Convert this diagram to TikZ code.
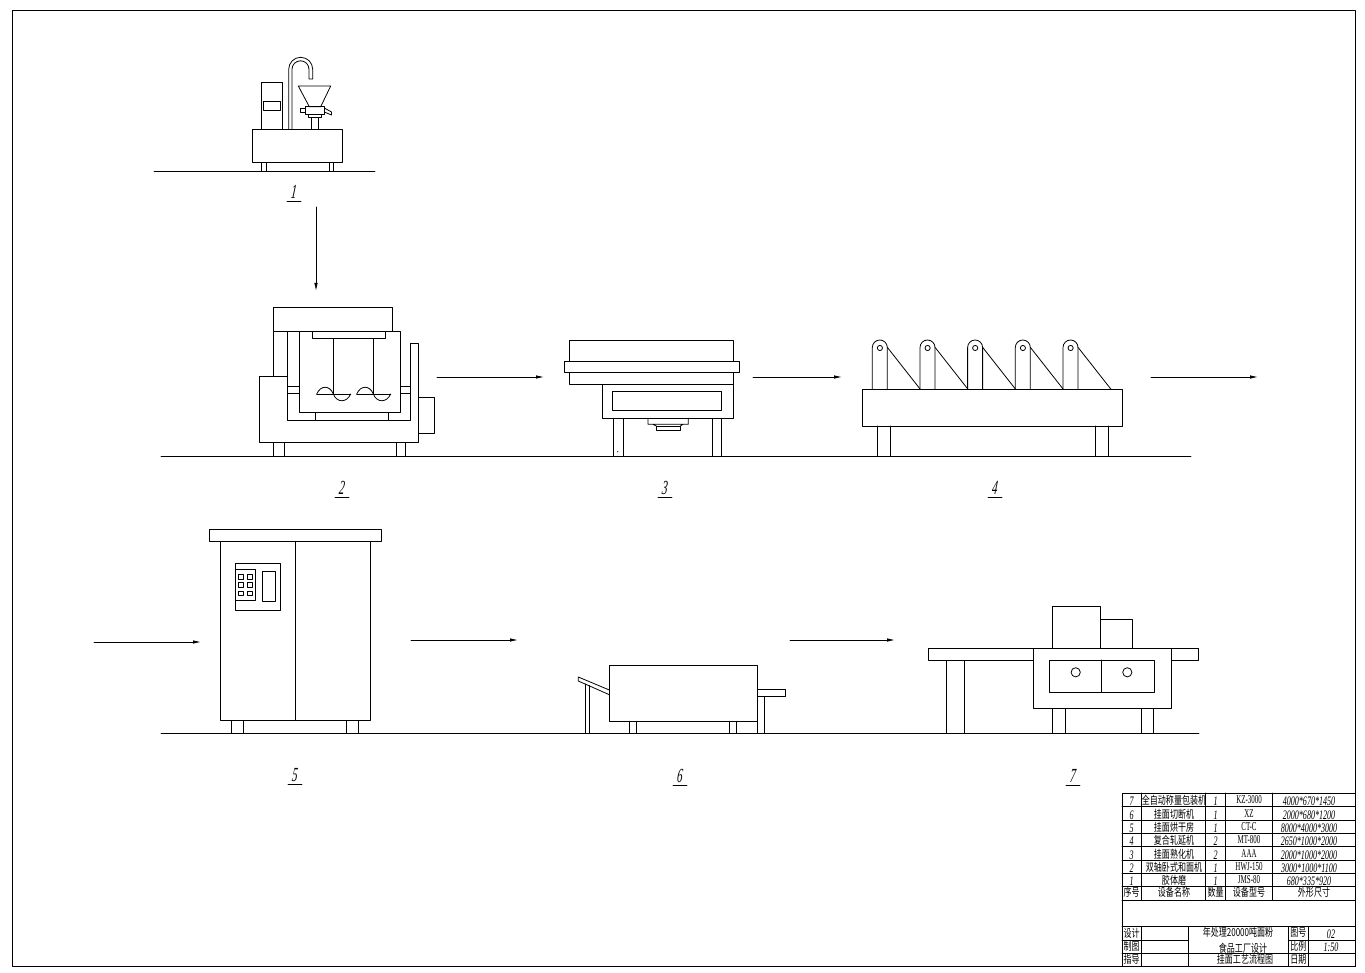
\documentclass[tikz,border=0pt]{standalone}
\usepackage{fontspec}
\usepackage{tikz}
\usetikzlibrary{arrows.meta}
\setmainfont{Liberation Serif}
\newfontfamily\cjk{Noto Sans CJK SC}
\tikzset{>=latex}
\tikzset{line/.style = {line width=0.8pt, black, line cap=round, line join=round}}
\tikzset{flow/.style = {line width=0.8pt, black, -{Latex[length=8pt,width=3.5pt]}}}
\tikzset{numlabel/.style = {inner sep=0pt, font=\fontsize{20}{20}\selectfont\itshape, xscale=0.55, xslant=0.2, transform shape}}
\tikzset{hanzi/.style = {inner sep=0pt, font=\fontsize{11}{11}\cjk, xscale=0.73, transform shape}}
\tikzset{latin/.style = {inner sep=0pt, font=\fontsize{12}{12}\selectfont, xscale=0.58, transform shape}}
\tikzset{dims/.style = {inner sep=0pt, font=\fontsize{13}{13}\selectfont\itshape, xscale=0.62, transform shape}}
\begin{document}
\begin{tikzpicture}[x=1pt, y=-1pt, line]
\useasboundingbox (0,0) rectangle (1365,973);

% Frame
\draw (12,10) rectangle (1355,966);

% Ground lines
\draw (154,171.5) -- (375,171.5);
\draw (161,456.5) -- (1191,456.5);
\draw (161,733.5) -- (1199,733.5);

% Machine 1
\draw (252.3,129.3) rectangle (342.7,162.7);
\draw (261.7,162.7) -- (261.7,171.5) (266,162.7) -- (266,171.5);
\draw (329,162.7) -- (329,171.5) (333.3,162.7) -- (333.3,171.5);
\draw (261.3,129.3) rectangle (282.7,82.3);
\draw (263.7,101) rectangle (280.7,110);
\draw (288.7,129.3) -- (288.7,69.3) arc[start angle=180, end angle=0, radius=12pt] -- (312.7,79) -- (309,79) -- (309,69.3) arc[start angle=0, end angle=180, radius=8.5pt] -- (292,129.3);
\draw (298.3,86) -- (330.7,86) -- (320.7,106.7) -- (309.3,106.7) -- cycle;
\draw (305,106.7) rectangle (324.3,114);
\draw (300.7,108) rectangle (305,112);
\draw (324.3,108) -- (331.5,112) -- (331.5,115) -- (324.3,112);
\draw (308.3,114) rectangle (321.7,117.7);
\draw (311,117.7) rectangle (318.7,129.3);

% Machine 2
\draw (273.3,307.3) rectangle (392.3,331.7);
\draw (273.3,331.7) -- (273.3,376) (287.7,331.7) -- (287.7,420.7) -- (410.7,420.7) -- (410.7,343.3) -- (418.3,343.3) -- (418.3,442.7) -- (259.3,442.7) -- (259.3,376) -- (287.7,376);
\draw (299.3,331.7) rectangle (400.3,412.7);
\draw (312.3,331.7) rectangle (385.7,338.7);
\draw (315.7,412.7) rectangle (388.7,420.7);
\draw (287.7,386.3) rectangle (299.3,393.7);
\draw (400.3,386.3) rectangle (410.7,393.3);
\draw (418.3,397.3) rectangle (434.3,433.3);
\foreach \bx in {316.7,356.7} {
  \draw (\bx+16.6,338.7) -- (\bx+16.6,394);
  \draw (\bx,394) -- (\bx+34,394);
  \draw (\bx,394) .. controls (\bx+4,385) and (\bx+13,385) .. (\bx+16.6,394);
  \draw (\bx+16.6,394) .. controls (\bx+20,403) and (\bx+30,403) .. (\bx+34,394);
}
\draw (273.3,442.7) -- (273.3,456.5) (284,442.7) -- (284,456.5);
\draw (396.7,442.7) -- (396.7,456.5) (405.3,442.7) -- (405.3,456.5);

% Machine 3
\draw (569.7,340.7) rectangle (733,384);
\draw[fill=white] (564.7,361.3) rectangle (739.3,372.3);
\draw (602,384) rectangle (733,418.3);
\draw (612.3,391.3) rectangle (721.3,410.3);
\draw (613.3,418.3) -- (613.3,456.5) (623,418.3) -- (623,456.5);
\draw (712,418.3) -- (712,456.5) (721.3,418.3) -- (721.3,456.5);
\fill (617.7,451.7) circle (0.6pt);
\draw (648,418.3) -- (648,424.3) -- (653,424.3) -- (656.3,426) (688.3,418.3) -- (688.3,424.3) -- (683,424.3) -- (680.3,426) (648,424.3) -- (688.3,424.3);
\draw (656.3,426) rectangle (680.3,430);

% Machine 4
\draw (862.3,389.3) rectangle (1122.3,426);
\draw (877.3,426) -- (877.3,456.5) (890.7,426) -- (890.7,456.5);
\draw (1095.3,426) -- (1095.3,456.5) (1108.7,426) -- (1108.7,456.5);
\foreach \ex in {872.3,920,967.6,1015.3,1063} {
  \draw (\ex,389.3) -- (\ex,347.5) arc[start angle=180, end angle=0, radius=7.5pt] -- (\ex+15,389.3);
  \draw (\ex+7.6,348) circle (2.6pt);
  \draw (\ex+15,347.3) -- (\ex+48,389.3);
}

% Machine 5
\draw (209,529.3) rectangle (381.3,541.3);
\draw (220.3,541.3) rectangle (370.7,720.3);
\draw (295,541.3) -- (295,720.3);
\draw (235.3,563.3) rectangle (280.7,610);
\draw (235.3,569.3) rectangle (255.7,600.7);
\draw (262.7,571.7) rectangle (275.7,601.3);
\foreach \kx in {238.3,247} {
  \foreach \ky in {574.7,582.7,591.3} {
    \draw (\kx,\ky) rectangle (\kx+5.5,\ky+4.5);
  }
}
\draw (231.3,720.3) rectangle (243.7,733.5);
\draw (346.7,720.3) rectangle (358.7,733.5);

% Machine 6
\draw (609.3,665) rectangle (757.3,721.3);
\draw (609.3,690) -- (578.3,677) -- (578.3,681) -- (609.3,694.7);
\draw (585.7,684) -- (585.7,733.5) (589,685.5) -- (589,733.5);
\draw (629.3,721.3) -- (629.3,733.5) (636.3,721.3) -- (636.3,733.5);
\draw (729.3,721.3) -- (729.3,733.5) (736.3,721.3) -- (736.3,733.5);
\draw (757.3,689.3) rectangle (785.3,696.3);
\draw (757.3,696.3) -- (757.3,733.5) (764.3,696.3) -- (764.3,733.5);

% Machine 7
\draw (928.7,648.3) rectangle (1033.7,660.3);
\draw (1171.7,648.3) rectangle (1198.3,660.3);
\draw (946.7,660.3) rectangle (964.3,733.5);
\draw (1033.7,648.3) rectangle (1171.7,708.3);
\draw (1049,660) rectangle (1154.3,692.3);
\draw (1101.7,660) -- (1101.7,692.3);
\draw (1075.7,672.3) circle (4.6pt);
\draw (1127.3,672.3) circle (4.6pt);
\draw (1052,606.7) rectangle (1100.3,648.3);
\draw (1100.3,619.3) rectangle (1132,648.3);
\draw (1052.3,708.3) rectangle (1065.7,733.5);
\draw (1141.7,708.3) rectangle (1153.7,733.5);

% Flow arrows
\coordinate (s1) at (316,207);    \coordinate (e1) at (316,291);
\coordinate (s2) at (437,377);    \coordinate (e2) at (544,377);
\coordinate (s3) at (753,377);    \coordinate (e3) at (842,377);
\coordinate (s4) at (1151,377);   \coordinate (e4) at (1258,377);
\coordinate (s5) at (94,642);     \coordinate (e5) at (201,642);
\coordinate (s6) at (411,640);    \coordinate (e6) at (518,640);
\coordinate (s7) at (790,640);    \coordinate (e7) at (895,640);
\foreach \i in {1,...,7} {
  \draw[flow] (s\i) -- (e\i);
}

% Machine numbers
\foreach \i/\lx/\ly in {1/294/192,2/342/488,3/665/488,4/995/488,5/295/775,6/680/776,7/1073/776} {
  \node[numlabel] (lab\i) at (\lx,\ly) {\i};
  \draw (\lx-7,\ly+9) -- (\lx+7,\ly+9);
}

% Title block
\draw (1122,793) rectangle (1355,966);
\foreach \ry in {806.7,820,833.3,846.7,860,873.3,886.7,900,926.7} {
  \draw (1122,\ry) -- (1355,\ry);
}
\foreach \cx in {1141.7,1205.7,1225.7,1272.3} {
  \draw (\cx,793) -- (\cx,900);
}
\draw (1122,940) -- (1188.3,940) (1122,953) -- (1188.3,953);
\draw (1288.3,940) -- (1355,940) (1288.3,953) -- (1355,953);
\draw (1188.3,953) -- (1288.3,953);
\foreach \cx in {1141.7,1188.3,1288.3,1308.3} {
  \draw (\cx,926.7) -- (\cx,966);
}

% Parts list
\foreach \ty/\no/\pname/\qty/\ptype/\psize in {
  800/7/全自动称量包装机/1/KZ-3000/4000*670*1450,
  814/6/挂面切断机/1/XZ/2000*680*1200,
  827/5/挂面烘干房/1/CT-C/8000*4000*3000,
  840/4/复合轧延机/2/MT-800/2650*1000*2000,
  854/3/挂面熟化机/2/AAA/2000*1000*2000,
  867/2/双轴卧式和面机/1/HWJ-150/3000*1000*1100,
  880/1/胶体磨/1/JMS-80/680*335*920} {
  \node[dims] (no\no) at (1131.7,\ty+1) {\no};
  \node[hanzi] (pname\no) at (1174,\ty) {\pname};
  \node[dims] (qty\no) at (1215.7,\ty+1) {\qty};
  \node[latin] (ptype\no) at (1249,\ty) {\ptype};
  \node[dims] (psize\no) at (1309,\ty+1) {\psize};
}
\node[hanzi] (hno) at (1131.7,892) {序号};
\node[hanzi] (hname) at (1174,892) {设备名称};
\node[hanzi] (hqty) at (1215.7,892) {数量};
\node[hanzi] (htype) at (1249,892) {设备型号};
\node[hanzi] (hsize) at (1314,892) {外形尺寸};

% Sign off
\node[hanzi] (sdesign) at (1131.7,933) {设计};
\node[hanzi] (sdraw) at (1131.7,946) {制图};
\node[hanzi] (sguide) at (1131.7,959) {指导};
\node[hanzi] (tone) at (1238,932) {年处理20000吨面粉};
\node[hanzi] (ttwo) at (1243,948) {食品工厂设计};
\node[hanzi] (tthree) at (1245,959) {挂面工艺流程图};
\node[hanzi] (dno) at (1298.3,933) {图号};
\node[hanzi] (dscale) at (1298.3,946) {比例};
\node[hanzi] (ddate) at (1298.3,959) {日期};
\node[dims] (vno) at (1331,934) {02};
\node[dims] (vscale) at (1331,947) {1:50};
\end{tikzpicture}
\end{document}
